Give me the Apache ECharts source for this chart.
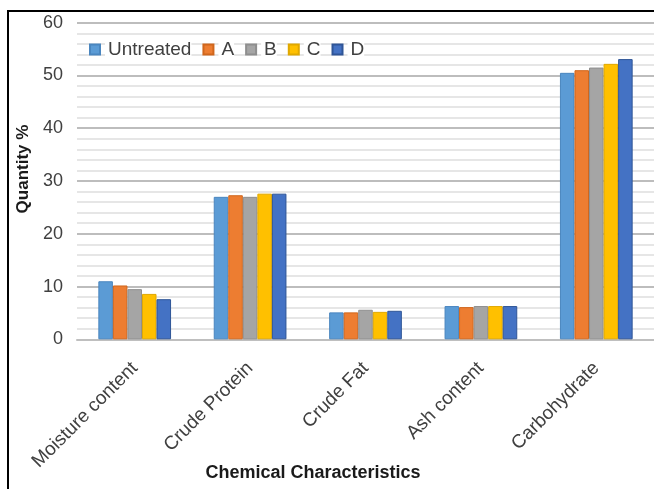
<!DOCTYPE html>
<html>
<head>
<meta charset="utf-8">
<script src="https://cdn.jsdelivr.net/npm/echarts@6/dist/echarts.min.js"></script>
<style>html,body{margin:0;padding:0;background:#fff}#c{width:654px;height:489px}</style>
</head>
<body>
<div id="c"></div>
<script>
var categories = ['Moisture content', 'Crude Protein', 'Crude Fat', 'Ash content', 'Carbohydrate'];
var seriesNames = ['Untreated', 'A', 'B', 'C', 'D'];
var untreated = [11.0, 27.0, 5.1, 6.3, 50.5];
var seriesA = [10.2, 27.3, 5.1, 6.1, 51.0];
var seriesB = [9.5, 27.0, 5.6, 6.3, 51.5];
var seriesC = [8.6, 27.6, 5.2, 6.3, 52.2];
var seriesD = [7.6, 27.6, 5.4, 6.3, 53.1];
var yTicks = [0, 10, 20, 30, 40, 50, 60];

var colors = ['#5B9BD5', '#ED7D31', '#A5A5A5', '#FFC000', '#4472C4'];
var borders = ['#4a86bf', '#d0661c', '#8e8e8e', '#e0a800', '#2f5597'];
var allData = [untreated, seriesA, seriesB, seriesC, seriesD];

var chart = echarts.init(document.getElementById('c'), null, {renderer: 'canvas'});
var font = 'Liberation Sans';
chart.setOption({
  animation: false,
  backgroundColor: '#fff',
  title: {
    text: 'Chemical Characteristics',
    left: 308, top: 459, textAlign: 'center',
    textStyle: {fontFamily: font, fontSize: 18, fontWeight: 'bold', color: '#1a1a1a'}
  },
  graphic: [{
    type: 'rect', z: 100, silent: true,
    shape: {x: 8, y: 11, width: 720, height: 600},
    style: {fill: 'none', stroke: '#000', lineWidth: 2}
  }],
  legend: {
    left: 84, top: 35,
    itemWidth: 10, itemHeight: 10, itemGap: 11,
    icon: 'rect',
    data: seriesNames,
    textStyle: {fontFamily: font, fontSize: 19, color: '#404040', padding: [0, 0, 0, 3], backgroundColor: '#fff'}
  },
  grid: {left: 77, right: -2, top: 22.7, bottom: 149.7, containLabel: false},
  xAxis: {
    type: 'category',
    data: categories,
    axisLine: {show: true, lineStyle: {color: '#bfbfbf', width: 2}},
    axisTick: {show: false},
    axisLabel: {rotate: 45, margin: 26, fontFamily: font, fontSize: 19, color: '#404040', interval: 0}
  },
  yAxis: {
    type: 'value',
    min: yTicks[0], max: yTicks[yTicks.length - 1], interval: 10,
    name: 'Quantity %',
    nameLocation: 'middle', nameRotate: 90, nameGap: 45,
    nameTextStyle: {fontFamily: font, fontSize: 17, fontWeight: 'bold', color: '#1a1a1a', padding: [0, 0, 0, 24]},
    axisLine: {show: false},
    axisTick: {show: false},
    axisLabel: {margin: 14, fontFamily: font, fontSize: 18, color: '#404040'},
    splitLine: {show: true, lineStyle: {color: '#bdbdbd', width: 2}},
    minorTick: {show: false, splitNumber: 5},
    minorSplitLine: {show: true, lineStyle: {color: '#dedede', width: 1.5}}
  },
  series: seriesNames.map(function (n, i) {
    return {
      name: n, type: 'bar',
      data: allData[i],
      barGap: '0%', barCategoryGap: '37%',
      itemStyle: {color: colors[i], borderColor: borders[i], borderWidth: 1}
    };
  })
});
</script>
</body>
</html>
